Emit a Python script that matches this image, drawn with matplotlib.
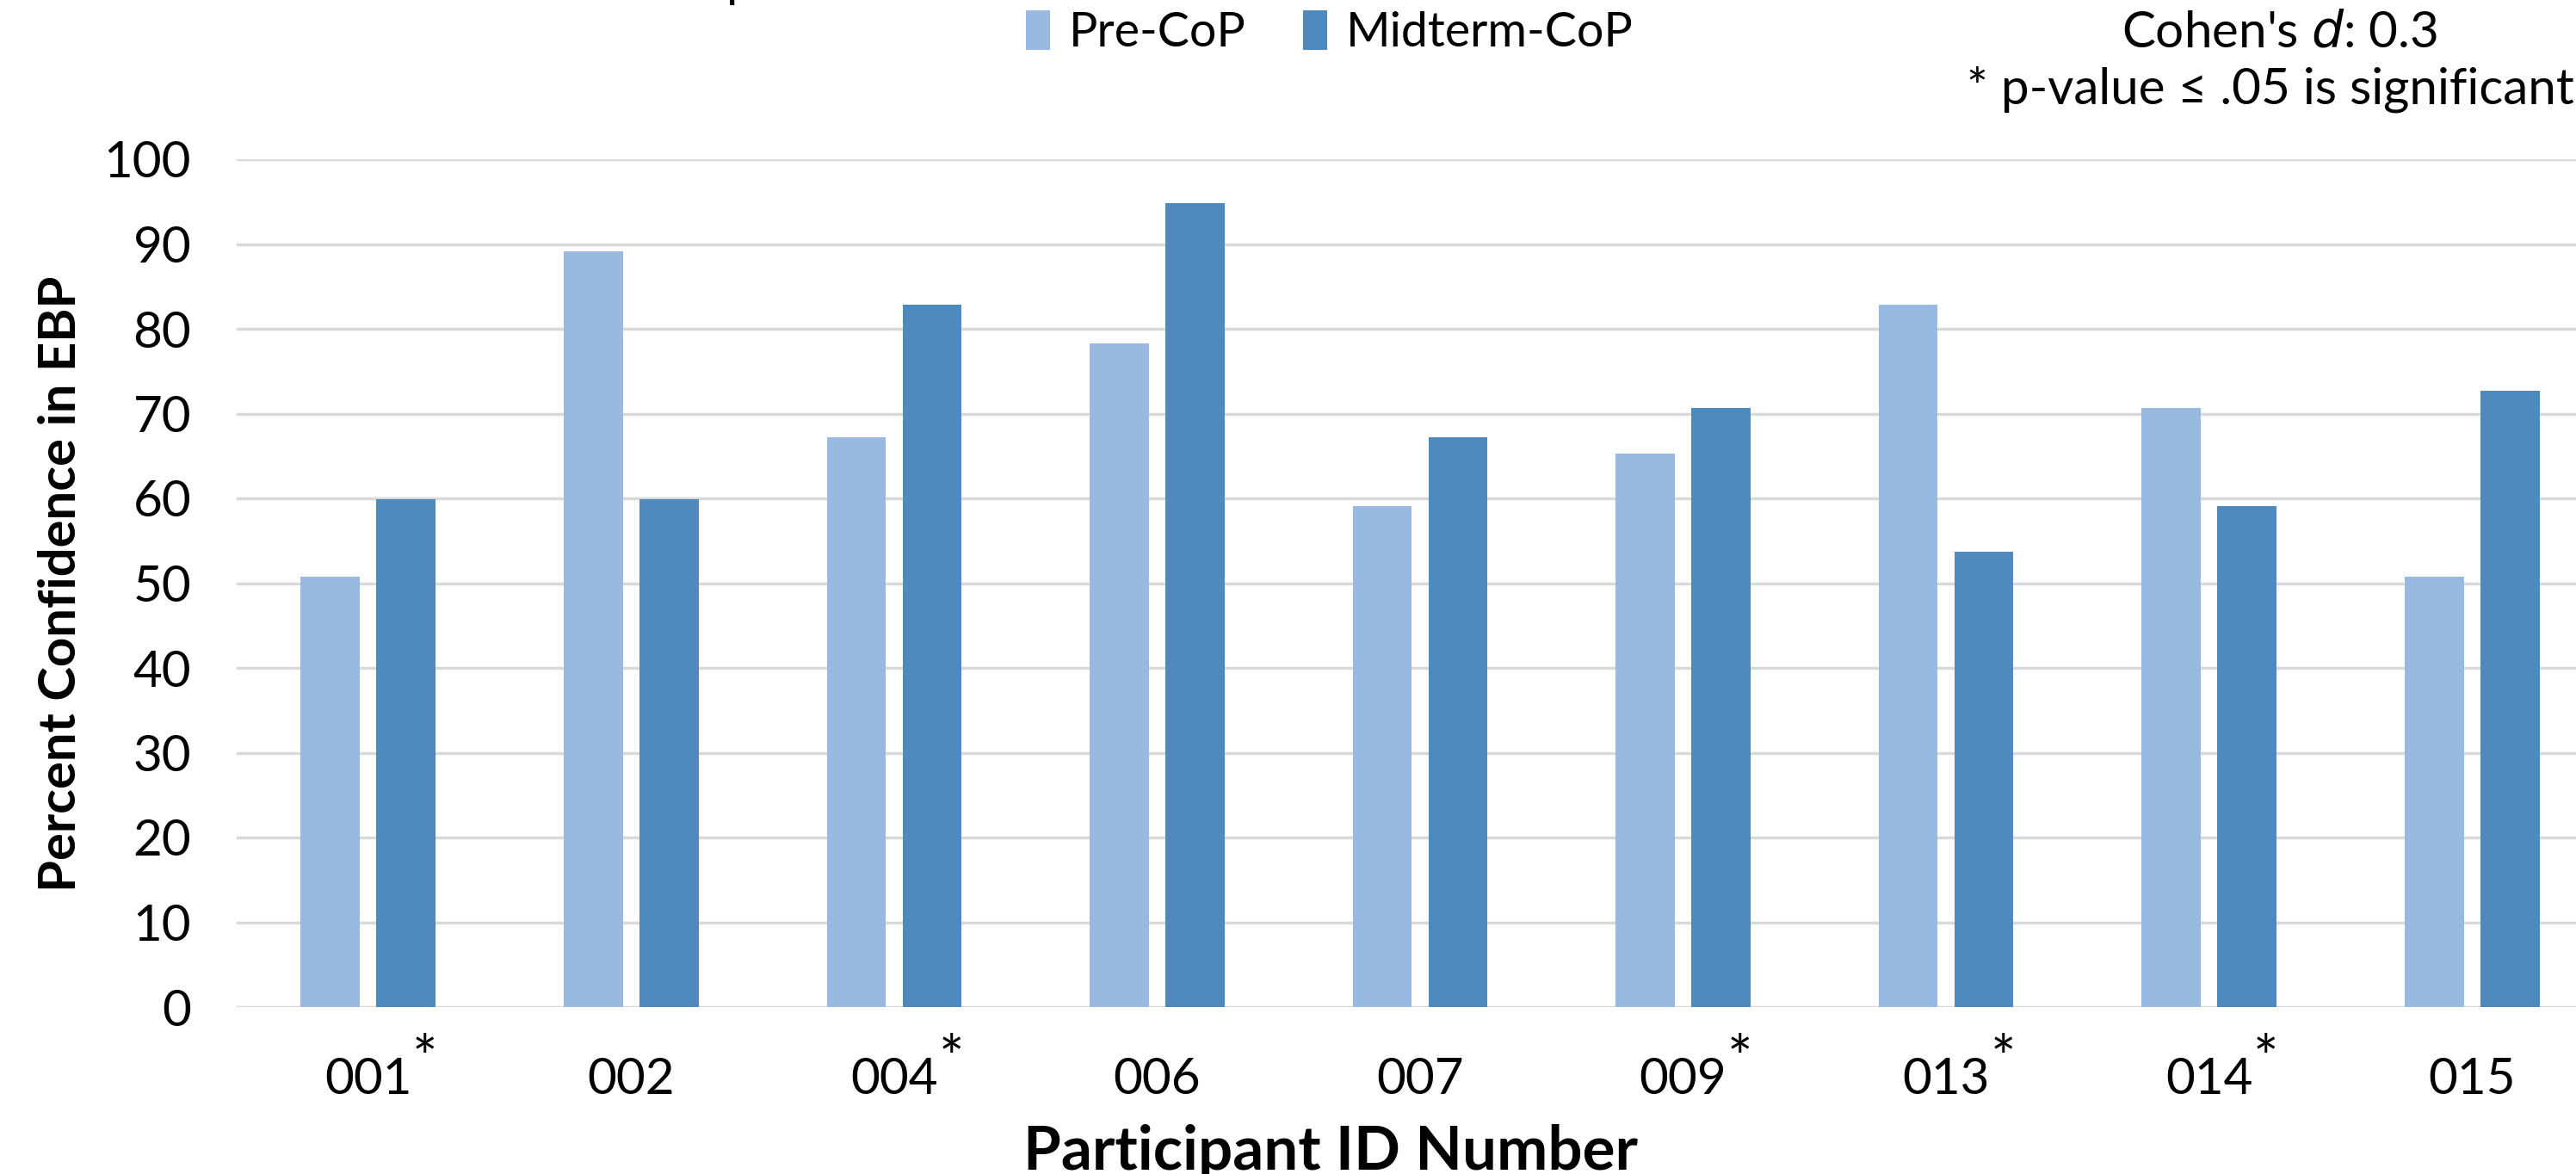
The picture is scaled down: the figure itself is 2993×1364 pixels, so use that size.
import numpy as np
import matplotlib
matplotlib.use('Agg')
import matplotlib.pyplot as plt

# chart data
participants = ['001', '002', '004', '006', '007', '009', '013', '014', '015']
significant = [True, False, True, False, False, True, True, True, False]
pre_cop = [50.8, 89.1, 67.2, 78.3, 59.1, 65.3, 82.8, 70.7, 50.8]
midterm_cop = [59.9, 59.9, 82.8, 94.8, 67.2, 70.7, 53.7, 59.1, 72.7]
yticks = [0, 10, 20, 30, 40, 50, 60, 70, 80, 90, 100]

plt.rcParams['font.family'] = ['Lato', 'DejaVu Sans']

W, H = 2993, 1364
fig = plt.figure(figsize=(W / 100, H / 100), dpi=100)

# axes runs a bit past the right edge, like the cropped original
ax = fig.add_axes([275 / W, 1 - 1170 / H, (3025 - 275) / W, (1170 - 185) / H])

x = np.arange(len(participants))
bw = 0.225
off = 0.144
ax.bar(x - off, pre_cop, bw, color='#99BAE0', label='Pre-CoP', zorder=3)
ax.bar(x + off, midterm_cop, bw, color='#4F8ABE', label='Midterm-CoP', zorder=3)

ax.set_xlim(-0.5, len(participants) - 0.5)
ax.set_ylim(0, 100)
ax.set_yticks(yticks)
ax.set_yticklabels([str(v) for v in yticks], fontsize=42)
ax.set_xticks(x)
ax.set_xticklabels(participants, fontsize=42)
ax.tick_params(axis='y', length=0, pad=38)
ax.tick_params(axis='x', length=0, pad=42)

ax.grid(axis='y', color='#D9D9D9', linewidth=2.5, zorder=0)
for s in ['top', 'right', 'left', 'bottom']:
    ax.spines[s].set_visible(False)

# asterisks for significant participants
for i, sig in enumerate(significant):
    if sig:
        ax.annotate('*', xy=(i, 0), xycoords=('data', 'axes fraction'),
                    xytext=(37, -46), textcoords='offset points',
                    fontsize=50, ha='left', va='center')

fig.text(71 / W, 1 - 678 / H, 'Percent Confidence in EBP', rotation=90,
         fontsize=43, fontweight='bold', ha='center', va='center')
fig.text(1546 / W, 1 - 1359 / H, 'Participant ID Number',
         fontsize=51, fontweight='bold', ha='center', va='baseline')

# title, mostly cut off at the top in the original
fig.text(1527 / W, 1 + 4 / H, 'Participant Pre-CoP and Midterm-CoP Percent Confidence in EBP',
         fontsize=42, ha='center', va='baseline')

fig.legend(loc='center', bbox_to_anchor=(1545 / W, 1 - 38 / H), ncol=2,
           frameon=False, fontsize=40, handlelength=0.5, handleheight=0.9,
           handletextpad=0.4, columnspacing=1.2)

fig.text(2648 / W, 1 - 38 / H, "Cohen's $\\it{d}$: 0.3", fontsize=42,
         ha='center', va='center')
fig.text(2285 / W, 1 - 104 / H, '* p-value \u2264 .05 is significant', fontsize=42,
         ha='left', va='center')

fig.savefig('out.png', dpi=100)
